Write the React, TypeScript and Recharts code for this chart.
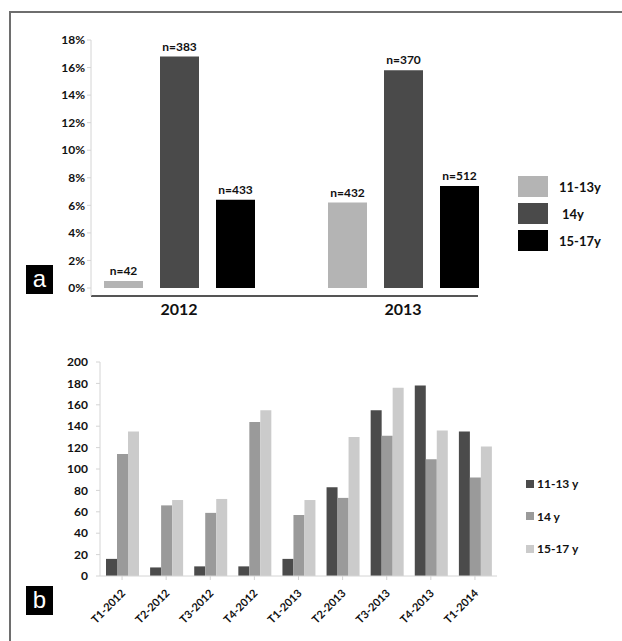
import { BarChart, Bar, XAxis, YAxis, LabelList } from 'recharts';

const years = ['2012', '2013'];
const pct1113 = [0.5, 6.2];
const pct14 = [16.8, 15.8];
const pct1517 = [6.4, 7.4];
const n1113 = ['n=42', 'n=432'];
const n14 = ['n=383', 'n=370'];
const n1517 = ['n=433', 'n=512'];
const pctTicks = [0, 2, 4, 6, 8, 10, 12, 14, 16, 18];

const periods = ['T1-2012', 'T2-2012', 'T3-2012', 'T4-2012', 'T1-2013', 'T2-2013', 'T3-2013', 'T4-2013', 'T1-2014'];
const count1113 = [16, 8, 9, 9, 16, 83, 155, 178, 135];
const count14 = [114, 66, 59, 144, 57, 73, 131, 109, 92];
const count1517 = [135, 71, 72, 155, 71, 130, 176, 136, 121];
const countTicks = [0, 20, 40, 60, 80, 100, 120, 140, 160, 180, 200];

const FONT = 'Lato, "Open Sans", sans-serif';

const topData = years.map((year, i) => ({
  year,
  a: pct1113[i],
  b: pct14[i],
  c: pct1517[i],
  na: n1113[i],
  nb: n14[i],
  nc: n1517[i],
}));

const bottomData = periods.map((period, i) => ({
  period,
  a: count1113[i],
  b: count14[i],
  c: count1517[i],
}));

const TOP_COLORS = ['#b4b4b4', '#4a4a4a', '#000000'];
const BOTTOM_COLORS = ['#4b4b4b', '#9a9a9a', '#cbcbcb'];

function PeriodTick(props: any) {
  const { x, y, payload } = props;
  return (
    <text
      x={x + 4}
      y={y + 12}
      transform={`rotate(-45 ${x + 4} ${y + 12})`}
      textAnchor="end"
      fontFamily={FONT}
      fontWeight={700}
      fontSize={11}
      fill="#111"
    >
      {payload.value}
    </text>
  );
}

function PanelTag({ letter, top }: { letter: string; top: number }) {
  return (
    <div
      style={{
        position: 'absolute',
        left: 26,
        top,
        width: 27,
        height: 29,
        background: '#000',
        color: '#fff',
        fontFamily: 'Arial, "Liberation Sans", sans-serif',
        fontSize: 24,
        lineHeight: '27px',
        textAlign: 'center',
      }}
    >
      {letter}
    </div>
  );
}

export default function App() {
  return (
    <div style={{ position: 'absolute', left: 0, top: 0, width: 622, height: 641, background: '#fff', overflow: 'hidden' }}>
      {/* frame */}
      <div style={{ position: 'absolute', left: 10, top: 11, width: 612, height: 2, background: '#6e6e6e' }} />
      <div style={{ position: 'absolute', left: 9, top: 11, width: 2, height: 630, background: '#6e6e6e' }} />

      <div style={{ position: 'absolute', left: 0, top: 0 }}>
        <BarChart width={622} height={320} data={topData} margin={{ top: 40, right: 144, left: 31, bottom: 0 }} barSize={39} barGap={17}>
          <XAxis
            dataKey="year"
            height={24}
            padding={{ left: -24, right: -37 }}
            axisLine={{ stroke: '#555', strokeWidth: 2 }}
            tickLine={false}
            tick={{ fontFamily: FONT, fontWeight: 700, fontSize: 16, fill: '#111' }}
            tickMargin={2}
          />
          <YAxis
            width={60}
            domain={[-0.58, 18]}
            ticks={pctTicks}
            allowDataOverflow
            tickFormatter={(v) => `${v}%`}
            axisLine={{ stroke: '#d4d4d4' }}
            tickLine={{ stroke: '#d4d4d4' }}
            tickSize={4}
            tick={{ fontFamily: FONT, fontWeight: 700, fontSize: 12, fill: '#111' }}
          />
          <Bar dataKey="a" fill={TOP_COLORS[0]} isAnimationActive={false}>
            <LabelList dataKey="na" position="top" offset={6} style={{ fontFamily: FONT, fontWeight: 700, fontSize: 12, fill: '#111' }} />
          </Bar>
          <Bar dataKey="b" fill={TOP_COLORS[1]} isAnimationActive={false}>
            <LabelList dataKey="nb" position="top" offset={6} style={{ fontFamily: FONT, fontWeight: 700, fontSize: 12, fill: '#111' }} />
          </Bar>
          <Bar dataKey="c" fill={TOP_COLORS[2]} isAnimationActive={false}>
            <LabelList dataKey="nc" position="top" offset={6} style={{ fontFamily: FONT, fontWeight: 700, fontSize: 12, fill: '#111' }} />
          </Bar>
        </BarChart>
      </div>

      {/* legend a */}
      {['11-13y', '14y', '15-17y'].map((label, i) => (
        <div key={label} style={{ position: 'absolute', left: 518, top: 176 + i * 27, display: 'flex', alignItems: 'center' }}>
          <div style={{ width: 30, height: 21, background: TOP_COLORS[i] }} />
          <span style={{ marginLeft: i === 1 ? 14 : 11, fontFamily: FONT, fontWeight: 700, fontSize: 13, color: '#111' }}>{label}</span>
        </div>
      ))}

      <PanelTag letter="a" top={265} />

      <div style={{ position: 'absolute', left: 0, top: 330 }}>
        <BarChart width={622} height={311} data={bottomData} margin={{ top: 32, right: 125, left: 40, bottom: 0 }} barSize={11} barGap={0}>
          <XAxis
            dataKey="period"
            height={65}
            interval={0}
            axisLine={{ stroke: '#d4d4d4' }}
            tickLine={{ stroke: '#d4d4d4' }}
            tickSize={4}
            tick={<PeriodTick />}
          />
          <YAxis
            width={60}
            domain={[0, 200]}
            ticks={countTicks}
            axisLine={{ stroke: '#d4d4d4' }}
            tickLine={{ stroke: '#d4d4d4' }}
            tickSize={4}
            tickMargin={8}
            tick={{ fontFamily: FONT, fontWeight: 700, fontSize: 12, fill: '#111' }}
          />
          <Bar dataKey="a" fill={BOTTOM_COLORS[0]} isAnimationActive={false} />
          <Bar dataKey="b" fill={BOTTOM_COLORS[1]} isAnimationActive={false} />
          <Bar dataKey="c" fill={BOTTOM_COLORS[2]} isAnimationActive={false} />
        </BarChart>
      </div>

      {/* legend b */}
      {['11-13 y', '14 y', '15-17 y'].map((label, i) => (
        <div key={label} style={{ position: 'absolute', left: 526, top: 476 + i * 32.5, display: 'flex', alignItems: 'center' }}>
          <div style={{ width: 8, height: 8, background: BOTTOM_COLORS[i] }} />
          <span style={{ marginLeft: 3, fontFamily: FONT, fontWeight: 700, fontSize: 12, color: '#111' }}>{label}</span>
        </div>
      ))}

      <PanelTag letter="b" top={586} />
    </div>
  );
}
